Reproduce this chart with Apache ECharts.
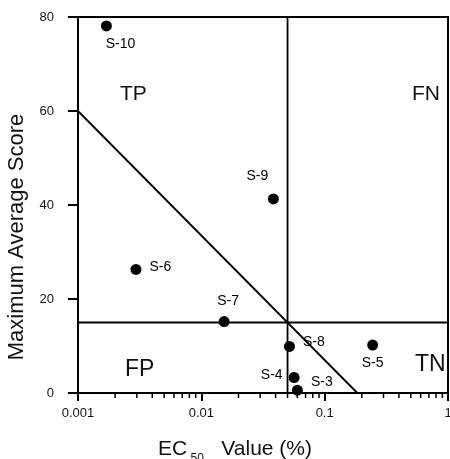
<!DOCTYPE html>
<html>
<head>
<meta charset="utf-8">
<script src="https://cdn.jsdelivr.net/npm/echarts@6/dist/echarts.min.js"></script>
<style>
  html, body { margin: 0; padding: 0; background: #fff; }
  #chart { width: 450px; height: 459px; }
</style>
</head>
<body>
<div id="chart"></div>
<script>
// samples: [EC50 (%), max average score]
const sampleNames = ['S-10', 'S-9', 'S-6', 'S-7', 'S-8', 'S-5', 'S-4', 'S-3'];
const ec50Values = [0.0017, 0.0384, 0.00295, 0.0153, 0.0518, 0.245, 0.0565, 0.0601];
const scoreValues = [78.1, 41.3, 26.3, 15.2, 9.9, 10.2, 3.3, 0.6];
const labelSides = ['bottom', 'top', 'right', 'top', 'right', 'bottom', 'left', 'right'];
const labelShifts = [[14, 0], [-16, -4], [2, -2], [4, -2], [2, -4], [0, 0], [0, -2], [2, -8]];

// cutoffs and discriminant line
const ec50Cutoff = 0.05;
const scoreCutoff = 15;
const discriminantLine = [[0.001, 60], [0.184, 0]];

const minorTickValues = [0.002, 0.003, 0.004, 0.005, 0.006, 0.007, 0.008, 0.009,
  0.02, 0.03, 0.04, 0.05, 0.06, 0.07, 0.08, 0.09,
  0.2, 0.3, 0.4, 0.5, 0.6, 0.7, 0.8, 0.9];

const font = 'Liberation Sans, Arial, sans-serif';
const chart = echarts.init(document.getElementById('chart'));

const points = sampleNames.map((n, i) => ({
  value: [ec50Values[i], scoreValues[i]],
  name: n,
  label: { position: labelSides[i], offset: labelShifts[i] }
}));

const option = {
  animation: false,
  grid: {
    left: 78, right: 2, top: 17, bottom: 66,
    outerBoundsMode: 'none',
    show: true, borderColor: '#000', borderWidth: 2
  },
  xAxis: {
    type: 'log',
    logBase: 10,
    min: 0.001,
    max: 1,
    axisLine: { lineStyle: { color: '#000', width: 2 } },
    axisTick: { show: true, length: 8, lineStyle: { color: '#000', width: 2 } },
    axisLabel: { color: '#111', fontFamily: font, fontSize: 13, margin: 14 },
    splitLine: { show: false },
    name: '{a|EC}{b| 50}{a|   Value (%)}',
    nameLocation: 'middle',
    nameGap: 46,
    nameTextStyle: {
      padding: [0, 56, 0, 0],
      rich: {
        a: { fontFamily: font, fontSize: 21, color: '#111', verticalAlign: 'bottom' },
        b: { fontFamily: font, fontSize: 12, color: '#111', verticalAlign: 'bottom', padding: [0, 0, -5, 0] }
      }
    }
  },
  yAxis: {
    type: 'value',
    min: 0,
    max: 80,
    interval: 20,
    axisLine: { show: true, lineStyle: { color: '#000', width: 2 } },
    axisTick: { show: true, length: 10, lineStyle: { color: '#000', width: 2 } },
    axisLabel: { color: '#111', fontFamily: font, fontSize: 13, margin: 24 },
    splitLine: { show: false },
    name: 'Maximum Average Score',
    nameLocation: 'middle',
    nameGap: 50,
    nameTextStyle: { fontFamily: font, fontSize: 22, color: '#111', padding: [0, 64, 0, 0] }
  },
  graphic: [
    { type: 'text', left: 120, top: 84, style: { text: 'TP', font: '21px ' + font, fill: '#111' } },
    { type: 'text', left: 412, top: 84, style: { text: 'FN', font: '21px ' + font, fill: '#111' } },
    { type: 'text', left: 125, top: 358, style: { text: 'FP', font: '23px ' + font, fill: '#111' } },
    { type: 'text', left: 415, top: 353, style: { text: 'TN', font: '23px ' + font, fill: '#111' } }
  ],
  series: [
    {
      type: 'line',
      data: [[ec50Cutoff, 0], [ec50Cutoff, 80]],
      symbol: 'none',
      lineStyle: { color: '#000', width: 1.8 },
      z: 1
    },
    {
      type: 'line',
      data: [[0.001, scoreCutoff], [1, scoreCutoff]],
      symbol: 'none',
      lineStyle: { color: '#000', width: 1.8 },
      z: 1
    },
    {
      type: 'line',
      data: discriminantLine,
      symbol: 'none',
      lineStyle: { color: '#000', width: 1.8 },
      z: 1
    },
    {
      type: 'scatter',
      data: points,
      symbolSize: 11,
      itemStyle: { color: '#000', opacity: 1 },
      label: {
        show: true,
        formatter: '{b}',
        fontFamily: font,
        fontSize: 14,
        color: '#000',
        distance: 6
      },
      z: 3
    },
    {
      type: 'custom',
      clip: false,
      data: minorTickValues.map(v => [v, 0]),
      renderItem: (params, api) => {
        const p = api.coord([api.value(0), 0]);
        return {
          type: 'line',
          shape: { x1: p[0], y1: p[1], x2: p[0], y2: p[1] + 5 },
          style: { stroke: '#000', lineWidth: 1.5 }
        };
      },
      silent: true
    }
  ]
};

chart.setOption(option);
</script>
</body>
</html>
